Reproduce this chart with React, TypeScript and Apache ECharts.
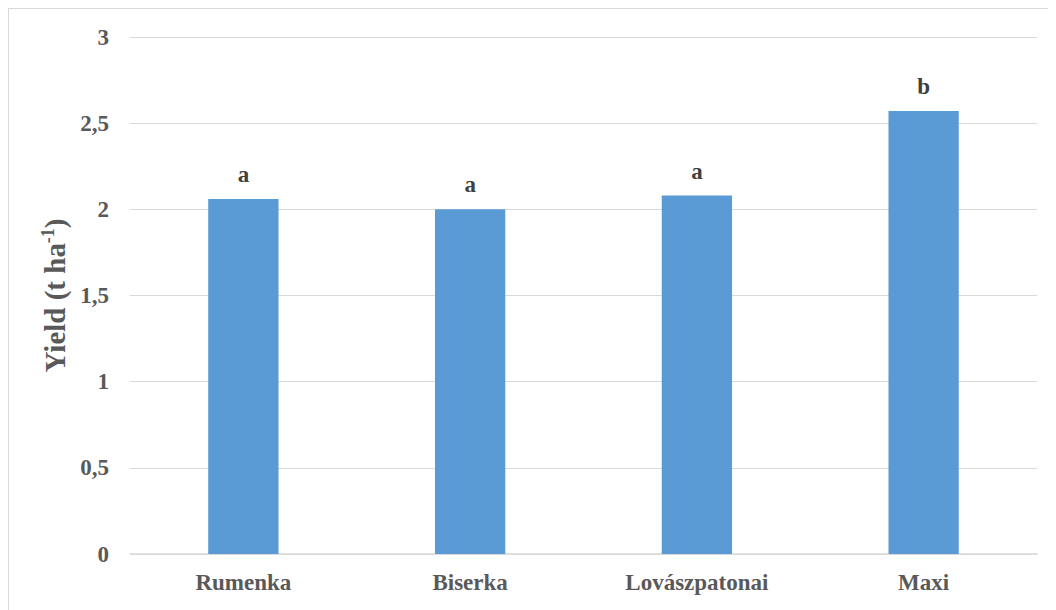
import React, { useEffect, useRef } from "react";
import * as echarts from "echarts";

const categories = ["Rumenka", "Biserka", "Lovászpatonai", "Maxi"];
const yieldValues = [2.06, 2.0, 2.08, 2.57];
const letters = ["a", "a", "a", "b"];
const yTicks = { min: 0, max: 3, interval: 0.5 };

export default function App() {
  const ref = useRef<HTMLDivElement>(null);
  useEffect(() => {
    if (!ref.current) return;
    const chart = echarts.init(ref.current, undefined, { renderer: "svg" });
    const font = "Liberation Serif";
    chart.setOption({
      animation: false,
      backgroundColor: "#ffffff",
      graphic: [
        {
          type: "rect",
          shape: { x: 0, y: 0, width: 1200, height: 800 },
          style: { fill: "none", stroke: "#d9d9d9", lineWidth: 2 },
          silent: true,
        },
      ],
      grid: { left: 122, right: 19, top: 29, bottom: 56, containLabel: false },
      xAxis: {
        type: "category",
        data: categories,
        axisTick: { show: false },
        axisLine: { lineStyle: { color: "#d9d9d9", width: 1.5 } },
        axisLabel: {
          color: "#595959",
          fontFamily: font,
          fontWeight: "bold",
          fontSize: 23,
          margin: 17,
        },
      },
      yAxis: {
        type: "value",
        min: yTicks.min,
        max: yTicks.max,
        interval: yTicks.interval,
        axisLine: { show: false },
        axisTick: { show: false },
        splitLine: { lineStyle: { color: "#d9d9d9", width: 1 } },
        axisLabel: {
          color: "#595959",
          fontFamily: font,
          fontWeight: "bold",
          fontSize: 23,
          margin: 21,
          formatter: (v: number) => String(v).replace(".", ","),
        },
        name: "{a|Yield (t ha}{s|-1}{a|)}",
        nameLocation: "middle",
        nameGap: 47,
        nameRotate: 90,
        nameTextStyle: {
          rich: {
            a: {
              color: "#595959",
              fontFamily: font,
              fontWeight: "bold",
              fontSize: 29,
              lineHeight: 32,
            },
            s: {
              color: "#595959",
              fontFamily: font,
              fontWeight: "bold",
              fontSize: 18,
              lineHeight: 30,
              verticalAlign: "top",
            },
          },
        },
      },
      series: [
        {
          type: "bar",
          data: yieldValues,
          barWidth: "31%",
          itemStyle: { color: "#5b9bd5" },
          label: {
            show: true,
            position: "top",
            distance: 13,
            color: "#404040",
            fontFamily: font,
            fontWeight: "bold",
            fontSize: 23,
            formatter: (p: any) => letters[p.dataIndex],
          },
        },
      ],
    });
    return () => chart.dispose();
  }, []);
  return <div ref={ref} style={{ width: 1048, height: 602 }} />;
}
